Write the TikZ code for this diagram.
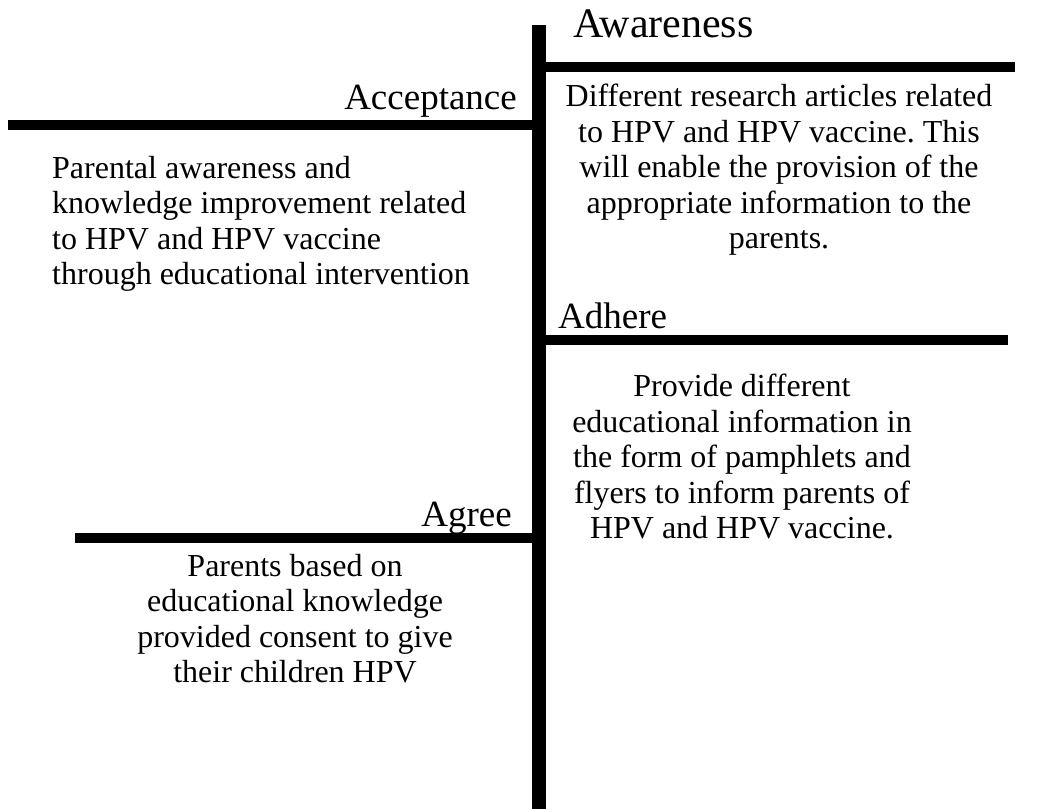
\documentclass[tikz,border=0pt]{standalone}
\usepackage{fontspec}
\setmainfont{Liberation Serif}
\frenchspacing
\begin{document}
\begin{tikzpicture}[x=1pt,y=-1pt,
  bar/.style={line width=14pt},
  rule/.style={line width=10pt},
  label/.style={inner sep=0pt, font=\fontsize{37}{40}\selectfont},
  body/.style={inner sep=0pt, font=\fontsize{32}{35.5}\selectfont, align=center, anchor=north}]
\useasboundingbox (0,0) rectangle (1055,809);
% spine and branches
\coordinate (vtop) at (539,25);
\coordinate (vbot) at (539,809);
\coordinate (aw1) at (539,66.5);
\coordinate (aw2) at (1015,66.5);
\coordinate (ac1) at (8,125);
\coordinate (ac2) at (539,125);
\coordinate (ad1) at (539,340);
\coordinate (ad2) at (1008,340);
\coordinate (ag1) at (75,538);
\coordinate (ag2) at (539,538);
\draw[bar] (vtop) -- (vbot);
\draw[rule] (aw1) -- (aw2);
\draw[rule] (ac1) -- (ac2);
\draw[rule] (ad1) -- (ad2);
\draw[rule] (ag1) -- (ag2);
% labels
\node[label, font=\fontsize{42}{44}\selectfont, anchor=base west] (awl) at (573,37) {Awareness};
\node[label, anchor=base east] (acl) at (517,109) {Acceptance};
\node[label, anchor=base west] (adl) at (558,328) {Adhere};
\node[label, anchor=base east] (agl) at (512,526) {Agree};
% texts
\node[body] (awt) at (779,84) {Different research articles related\\to HPV and HPV vaccine. This\\will enable the provision of the\\appropriate information to the\\parents.};
\node[body, align=left, anchor=north west] (act) at (52,156) {Parental awareness and\\knowledge improvement related\\to HPV and HPV vaccine\\through educational intervention};
\node[body] (adt) at (742,374) {Provide different\\educational information in\\the form of pamphlets and\\flyers to inform parents of\\HPV and HPV vaccine.};
\node[body] (agt) at (295,554) {Parents based on\\educational knowledge\\provided consent to give\\their children HPV};
\end{tikzpicture}
\end{document}
